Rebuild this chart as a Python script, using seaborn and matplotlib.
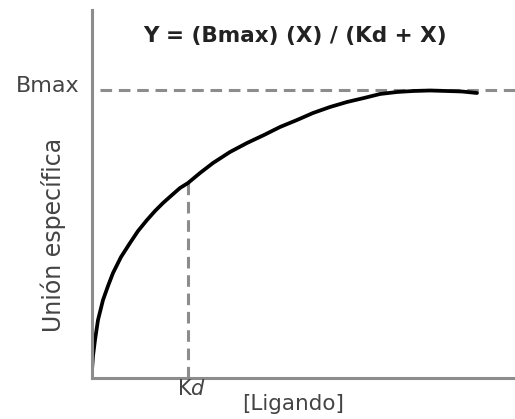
import numpy as np
import pandas as pd
import seaborn as sns
from matplotlib import pyplot as plt

sns.set_style('white')
plt.rcParams['font.family'] = ['DejaVu Sans']
plt.rcParams['mathtext.fontset'] = 'custom'
plt.rcParams['mathtext.rm'] = 'DejaVu Sans'
plt.rcParams['mathtext.it'] = 'DejaVu Sans:italic'

# curva de saturacion (unidades arbitrarias)
ligando = [0, 1, 3, 6, 11, 16, 21, 29, 38, 46, 55, 63, 71, 80, 88, 96,
           108, 121, 138, 155, 172, 188, 205, 221, 238, 255, 272, 288,
           305, 321, 338, 355, 370, 385]
union = [8, 22, 38, 58, 78, 92, 105, 121, 135, 147, 158, 167, 175, 183,
         190, 195, 205, 215, 226, 235, 243, 251, 258, 265, 271, 276, 280,
         284, 286, 287, 287.5, 287, 286.5, 285]
bmax = 288
kd = 96
kd_union = 195

df = pd.DataFrame({'ligando': ligando, 'union': union})

fig = plt.figure(figsize=(5.15, 4.19), dpi=100)
ax = fig.add_axes([92 / 515, 41 / 419, 423 / 515, 368 / 419])

gris = '#8c8c8c'
ax.axhline(bmax, xmin=8 / 423, xmax=1, color=gris, lw=2.2, ls=(0, (3.8, 2.2)))
ax.plot([kd, kd], [0, kd_union], color=gris, lw=2.2, ls=(0, (3.8, 2.2)))
sns.lineplot(data=df, x='ligando', y='union', color='black', lw=2.7,
             sort=False, ax=ax)

ax.set_xlim(0, 423)
ax.set_ylim(0, 368)
ax.set_xticks([])
ax.set_yticks([])
ax.set_xlabel('')
ax.set_ylabel('')
for s in ['top', 'right']:
    ax.spines[s].set_visible(False)
for s in ['left', 'bottom']:
    ax.spines[s].set_color(gris)
    ax.spines[s].set_linewidth(2.2)

txt = '#444444'
fig.text(295 / 515, 1 - 36 / 419, 'Y = (Bmax) (X) / (Kd + X)', ha='center',
         va='center', fontsize=15.5, fontweight='bold', color='#222222')
fig.text(80 / 515, 1 - 86 / 419, 'Bmax', ha='right', va='center',
         fontsize=16, color=txt)
fig.text(192 / 515, 1 - 389 / 419, r'K$\mathit{d}$', ha='center',
         va='center', fontsize=15, color=txt)
fig.text(293 / 515, 1 - 404 / 419, '[Ligando]', ha='center', va='center',
         fontsize=15.5, color=txt)
fig.text(53 / 515, 1 - 235 / 419, 'Unión específica', ha='center',
         va='center', rotation=90, fontsize=17, color=txt)

fig.savefig('out.png', dpi=100)
